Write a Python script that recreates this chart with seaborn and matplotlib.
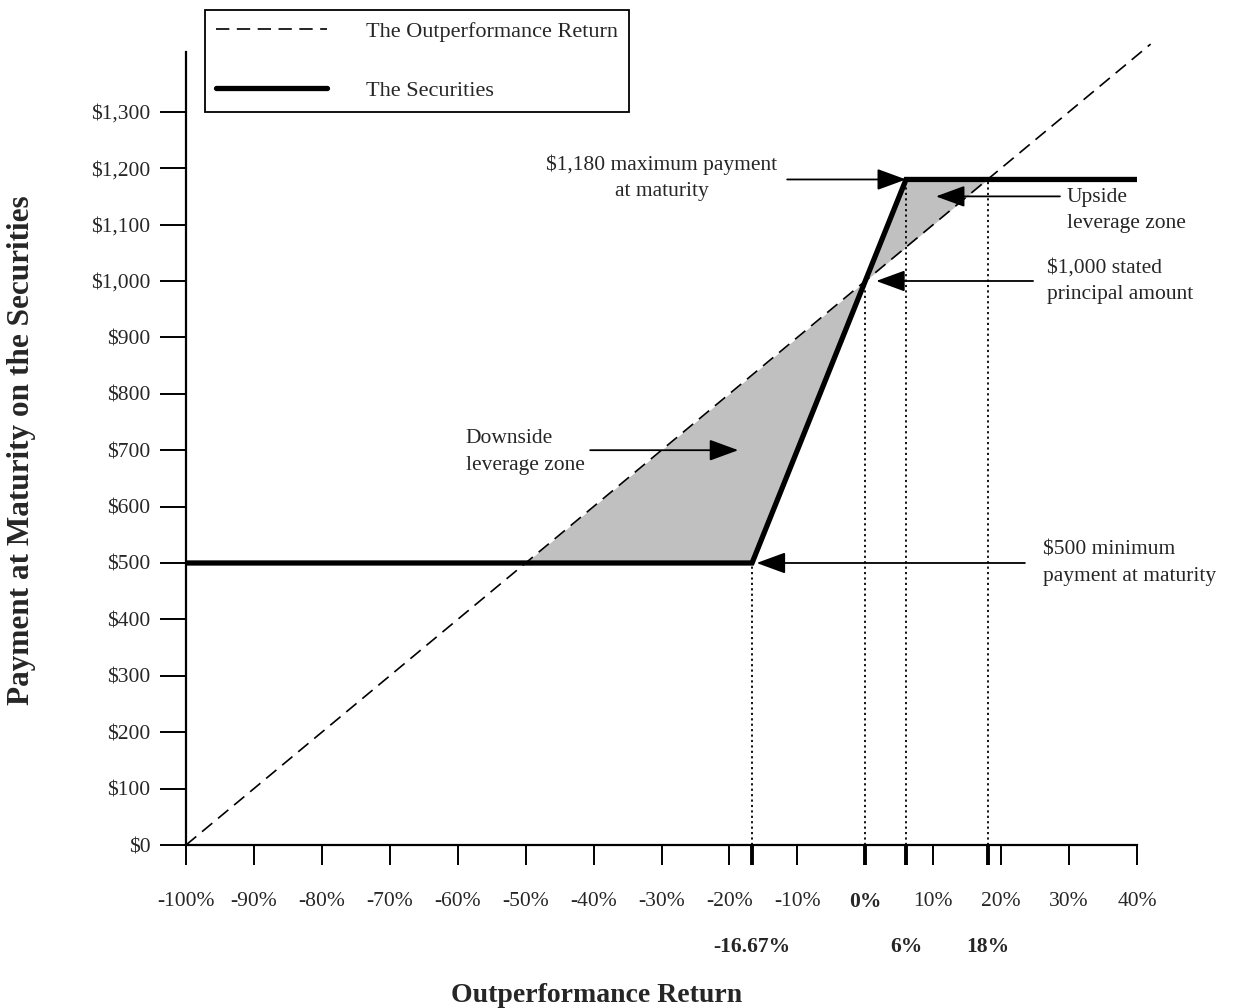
import numpy as np
import pandas as pd
import matplotlib
matplotlib.use("Agg")
import matplotlib.pyplot as plt
from matplotlib.patches import ArrowStyle
from matplotlib.ticker import FixedLocator
import seaborn as sns

# ---------------- data ----------------
x_ticks = [-100, -90, -80, -70, -60, -50, -40, -30, -20, -10, 0, 10, 20, 30, 40]
x_tick_labels = [f"{v}%" for v in x_ticks]
key_x = [-16.67, 6, 18]
key_x_labels = ["-16.67%", "6%", "18%"]
y_ticks = [0, 100, 200, 300, 400, 500, 600, 700, 800, 900, 1000, 1100, 1200, 1300]
y_tick_labels = [f"${v:,}" for v in y_ticks]

outperf_x = [-100, 42]
outperf_y = [0, 1420]
sec_x = [-100, -16.67, 6, 40]
sec_y = [500, 500, 1180, 1180]

dotted_x = [-16.67, 0, 6, 18]
dotted_top = [500, 1000, 1180, 1180]

zone_start, zone_end = -50, 18

# ---------------- style ----------------
sns.set_theme(style="white")
plt.rcParams["font.family"] = ["Liberation Serif", "DejaVu Serif"]
plt.rcParams["axes.unicode_minus"] = False

fig = plt.figure(figsize=(12.35, 10.08), dpi=100)
ax = fig.add_axes([186 / 1235, 1 - 845 / 1008, (1137 - 186) / 1235, (845 - 52) / 1008])
ax.set_xlim(-100, 40)
ax.set_ylim(0, 1406)

# shaded leverage zones
xs = np.linspace(zone_start, zone_end, 600)
ax.fill_between(xs, np.interp(xs, outperf_x, outperf_y), np.interp(xs, sec_x, sec_y),
                color="#c0c0c0", lw=0, zorder=1)

# dotted guide lines
ax.vlines(dotted_x, 0, dotted_top, colors="black", linestyles=(0, (1.2, 1.8)), lw=1.3, zorder=2)

df_out = pd.DataFrame({"ret": outperf_x, "pay": outperf_y})
df_sec = pd.DataFrame({"ret": sec_x, "pay": sec_y})
sns.lineplot(data=df_out, x="ret", y="pay", ax=ax, color="black", lw=1.2,
             linestyle=(0, (8, 4.5)), clip_on=False, zorder=3, label="The Outperformance Return")
sns.lineplot(data=df_sec, x="ret", y="pay", ax=ax, color="black", lw=3.8,
             solid_capstyle="round", solid_joinstyle="miter", zorder=4, label="The Securities")

# spines
for s in ["top", "right"]:
    ax.spines[s].set_visible(False)
for s in ["left", "bottom"]:
    ax.spines[s].set_color("black")
    ax.spines[s].set_linewidth(1.6)

# ticks
ax.xaxis.set_major_locator(FixedLocator(x_ticks))
ax.set_xticklabels(x_tick_labels, fontsize=15.5)
ax.xaxis.set_minor_locator(FixedLocator(key_x))
ax.set_xticklabels(key_x_labels, minor=True, fontsize=15.5, fontweight="bold")
ax.tick_params(axis="x", which="major", direction="out", length=14.5, width=1.4,
               color="black", pad=19.5, bottom=True)
ax.tick_params(axis="x", which="minor", direction="out", length=14.5, width=2.8,
               color="black", pad=51.5, bottom=True)
for t, lab in zip(ax.xaxis.get_major_ticks(), ax.get_xticklabels()):
    if lab.get_text() == "0%":
        t.tick1line.set_markeredgewidth(2.8)
        lab.set_fontweight("bold")

ax.set_yticks(y_ticks)
ax.set_yticklabels(y_tick_labels, fontsize=15.5)
ax.tick_params(axis="y", direction="out", length=18.5, width=1.4, color="black", pad=7, left=True)

ax.set_xlabel("")
ax.set_ylabel("")
fig.text(597 / 1235, 1 - 995 / 1008, "Outperformance Return", ha="center", va="center",
         fontsize=20, fontweight="bold")
fig.text(22 / 1235, 1 - 450 / 1008, "Payment at Maturity on the Securities", ha="center",
         va="center", rotation=90, fontsize=22.5, fontweight="bold")

# annotations
astyle = ArrowStyle("-|>", head_length=0.6, head_width=0.22)
aprops = dict(arrowstyle=astyle, mutation_scale=30, color="black", lw=1.3,
              shrinkA=0, shrinkB=0)
fs = 15.5
ls = 1.55
ax.annotate("", xy=(6, 1180), xytext=(-11.5, 1180), arrowprops=aprops, annotation_clip=False)
ax.text(-13.0, 1183, "$1,180 maximum payment\nat maturity", ha="right", va="center",
        multialignment="center", fontsize=fs, linespacing=ls)

ax.annotate("", xy=(10.4, 1150), xytext=(28.66, 1150), arrowprops=aprops, annotation_clip=False)
ax.text(29.7, 1125, "Upside\nleverage zone", ha="left", va="center", fontsize=fs,
        linespacing=ls, clip_on=False)

ax.annotate("", xy=(1.6, 1000), xytext=(24.7, 1000), arrowprops=aprops, annotation_clip=False)
ax.text(26.75, 1000, "$1,000 stated\nprincipal amount", ha="left", va="center", fontsize=fs,
        linespacing=ls, clip_on=False)

ax.annotate("", xy=(-16.0, 500), xytext=(23.5, 500), arrowprops=aprops, annotation_clip=False)
ax.text(26.2, 500, "$500 minimum\npayment at maturity", ha="left", va="center", fontsize=fs,
        linespacing=ls, clip_on=False)

ax.annotate("", xy=(-18.7, 700), xytext=(-40.5, 700), arrowprops=aprops, annotation_clip=False)
ax.text(-58.8, 697, "Downside\nleverage zone", ha="left", va="center", fontsize=fs,
        linespacing=ls)

# legend
handles = ax.get_lines()[:2]
leg = ax.legend(handles=handles, labels=["The Outperformance Return", "The Securities"],
                loc="upper left", bbox_to_anchor=(205 / 1235, 1 - 10 / 1008),
                bbox_transform=fig.transFigure, borderaxespad=0, fontsize=16,
                handlelength=5.0, handletextpad=1.75, labelspacing=1.75, borderpad=0.5,
                fancybox=False, framealpha=1, edgecolor="black")
leg.get_frame().set_linewidth(1.3)

fig.savefig("out.png", dpi=100)
